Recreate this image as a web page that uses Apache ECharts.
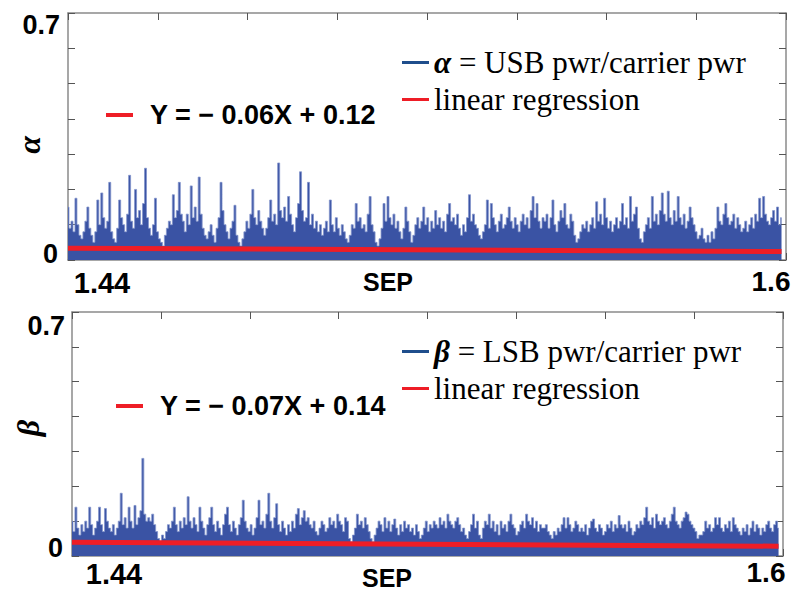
<!DOCTYPE html>
<html><head><meta charset="utf-8">
<script src="https://cdn.jsdelivr.net/npm/echarts@6/dist/echarts.min.js"></script>
<style>html,body{margin:0;padding:0;background:#fff}#c{width:794px;height:593px}</style>
</head><body><div id="c"></div>
<script>
// ---- data ----
const xRange = [1.44, 1.6];          // SEP axis range
const xTickStep = 0.02;
const yRange = [0, 0.7];
const yTickStep = 0.1;
const xLabels = ['1.44', '1.6'];
const yLabels = ['0', '0.7'];
const sampleLast = 1.599;            // last sample position (SEP)

const alphaName = 'α = USB pwr/carrier pwr';
const betaName = 'β = LSB pwr/carrier pwr';
const fitName = 'linear regression';

const alphaFit = [-0.06, 0.12];      // slope, intercept
const betaFit = [-0.07, 0.14];

const alphaValues = [
0.15,0.09,0.11,0.08,0.175,0.10,0.07,0.06,0.08,0.11,0.15,0.09,0.07,0.05,0.08,0.17,0.10,0.19,0.12,0.09,
0.11,0.22,0.08,0.06,0.05,0.09,0.17,0.12,0.10,0.08,0.13,0.24,0.11,0.09,0.20,0.12,0.14,0.10,0.16,0.26,
0.12,0.09,0.07,0.10,0.175,0.08,0.06,0.05,0.04,0.07,0.09,0.11,0.10,0.185,0.12,0.14,0.22,0.13,0.11,0.08,
0.13,0.10,0.21,0.12,0.15,0.11,0.235,0.13,0.09,0.07,0.06,0.08,0.10,0.07,0.05,0.09,0.12,0.22,0.14,0.10,
0.08,0.06,0.09,0.11,0.155,0.07,0.05,0.04,0.06,0.08,0.11,0.09,0.13,0.20,0.12,0.10,0.14,0.11,0.09,0.07,
0.09,0.12,0.17,0.11,0.13,0.10,0.275,0.14,0.12,0.15,0.11,0.18,0.13,0.10,0.08,0.12,0.16,0.25,0.14,0.11,
0.12,0.22,0.10,0.13,0.09,0.11,0.08,0.10,0.07,0.09,0.11,0.08,0.17,0.10,0.08,0.12,0.09,0.07,0.10,0.08,
0.06,0.05,0.07,0.10,0.09,0.16,0.11,0.12,0.09,0.10,0.08,0.13,0.18,0.10,0.08,0.05,0.04,0.06,0.09,0.16,
0.11,0.18,0.12,0.10,0.13,0.09,0.11,0.08,0.06,0.09,0.15,0.11,0.08,0.05,0.07,0.10,0.12,0.09,0.11,0.15,
0.10,0.12,0.08,0.11,0.09,0.14,0.10,0.12,0.09,0.11,0.08,0.13,0.16,0.11,0.12,0.10,0.13,0.09,0.07,0.10,
0.08,0.12,0.185,0.11,0.13,0.10,0.09,0.07,0.06,0.08,0.10,0.17,0.09,0.16,0.12,0.10,0.08,0.11,0.13,0.09,
0.10,0.12,0.15,0.11,0.09,0.12,0.10,0.08,0.11,0.13,0.10,0.12,0.09,0.14,0.18,0.12,0.16,0.11,0.09,0.12,
0.11,0.13,0.09,0.12,0.17,0.10,0.08,0.11,0.14,0.12,0.16,0.10,0.09,0.13,0.11,0.07,0.05,0.06,0.08,0.10,
0.09,0.11,0.08,0.10,0.12,0.09,0.165,0.11,0.13,0.10,0.175,0.12,0.09,0.11,0.08,0.10,0.12,0.09,0.11,0.16,
0.10,0.12,0.09,0.18,0.11,0.13,0.15,0.09,0.06,0.05,0.08,0.10,0.12,0.09,0.18,0.11,0.13,0.10,0.14,0.19,
0.13,0.11,0.195,0.12,0.10,0.14,0.11,0.18,0.12,0.10,0.13,0.09,0.11,0.15,0.12,0.10,0.08,0.06,0.07,0.09,
0.06,0.05,0.07,0.05,0.08,0.06,0.09,0.15,0.11,0.10,0.13,0.16,0.12,0.10,0.11,0.13,0.09,0.12,0.10,0.08,
0.09,0.11,0.08,0.10,0.12,0.09,0.13,0.11,0.175,0.12,0.18,0.13,0.11,0.10,0.12,0.14,0.11,0.15,0.10,0.12
];

const betaValues = [
0.10,0.07,0.14,0.08,0.06,0.09,0.07,0.10,0.08,0.14,0.09,0.06,0.08,0.10,0.14,0.09,0.07,0.136,0.10,0.08,
0.07,0.09,0.06,0.08,0.10,0.18,0.09,0.11,0.08,0.14,0.10,0.08,0.145,0.09,0.11,0.13,0.28,0.12,0.10,0.11,
0.10,0.12,0.09,0.07,0.05,0.04,0.06,0.05,0.07,0.09,0.08,0.10,0.14,0.09,0.07,0.10,0.08,0.11,0.09,0.17,
0.10,0.08,0.11,0.09,0.07,0.14,0.10,0.08,0.06,0.09,0.11,0.14,0.09,0.07,0.10,0.08,0.06,0.09,0.12,0.14,
0.09,0.07,0.10,0.08,0.06,0.09,0.11,0.16,0.10,0.08,0.07,0.09,0.06,0.08,0.11,0.16,0.09,0.10,0.08,0.12,
0.18,0.10,0.08,0.11,0.15,0.09,0.07,0.10,0.08,0.06,0.09,0.07,0.10,0.08,0.12,0.136,0.09,0.11,0.13,0.10,
0.11,0.09,0.08,0.10,0.07,0.06,0.08,0.10,0.09,0.07,0.08,0.11,0.09,0.10,0.08,0.12,0.10,0.09,0.07,0.11,
0.10,0.05,0.04,0.06,0.08,0.12,0.09,0.10,0.08,0.11,0.09,0.07,0.05,0.04,0.06,0.08,0.10,0.09,0.07,0.11,
0.08,0.10,0.07,0.09,0.106,0.08,0.06,0.09,0.07,0.10,0.08,0.09,0.07,0.08,0.06,0.09,0.07,0.05,0.06,0.08,
0.10,0.07,0.09,0.08,0.10,0.09,0.08,0.11,0.09,0.10,0.08,0.12,0.10,0.09,0.08,0.10,0.11,0.09,0.07,0.08,
0.06,0.05,0.07,0.09,0.12,0.08,0.10,0.06,0.05,0.08,0.10,0.09,0.12,0.08,0.10,0.07,0.09,0.06,0.10,0.08,
0.09,0.07,0.10,0.12,0.09,0.08,0.06,0.07,0.09,0.10,0.08,0.12,0.10,0.09,0.11,0.08,0.10,0.07,0.09,0.08,
0.08,0.09,0.07,0.06,0.05,0.07,0.06,0.08,0.07,0.09,0.11,0.08,0.11,0.09,0.07,0.08,0.10,0.09,0.07,0.08,
0.07,0.09,0.06,0.08,0.10,0.106,0.08,0.07,0.09,0.08,0.06,0.07,0.09,0.08,0.10,0.07,0.09,0.08,0.116,0.09,
0.08,0.09,0.07,0.10,0.08,0.06,0.07,0.09,0.08,0.10,0.09,0.11,0.14,0.10,0.09,0.11,0.08,0.12,0.10,0.09,
0.10,0.11,0.09,0.08,0.10,0.12,0.14,0.10,0.09,0.08,0.10,0.11,0.126,0.12,0.10,0.09,0.08,0.07,0.05,0.06,
0.06,0.07,0.10,0.08,0.09,0.07,0.08,0.11,0.09,0.11,0.08,0.07,0.09,0.08,0.10,0.07,0.11,0.09,0.08,0.07,
0.06,0.08,0.07,0.09,0.06,0.08,0.10,0.07,0.09,0.08,0.06,0.08,0.07,0.09,0.10,0.08,0.07,0.09,0.10,0.08
];

// ---- build ----
function samples(vals) {
  const n = vals.length;
  return vals.map((v, i) => [xRange[0] + (sampleLast - xRange[0]) * i / (n - 1), v]);
}
function fitLine(f) {
  return [xRange[0], sampleLast].map(x => [x, f[0] * x + f[1]]);
}

const DATA_BLUE = '#3a53a4';
const LEGEND_BLUE = '#1f4e8c';
const RED = '#ee1d26';
const FRAME = '#8a8a8a';
const SANS = 'Liberation Sans';
const SERIF = 'Liberation Serif';

const grids = [
  { left: 68, top: 13, right: 8, height: 247 },
  { left: 72, top: 312, right: 11, height: 244 }
];

function xAx(gi, pos) {
  return {
    type: 'value', gridIndex: gi, position: pos, min: xRange[0], max: xRange[1], interval: xTickStep,
    axisLine: { show: true, onZero: false, lineStyle: { color: FRAME, width: 1.5 } },
    axisTick: { show: true, inside: true, length: 7, lineStyle: { color: '#555', width: 1 } },
    axisLabel: { show: false }, splitLine: { show: false }
  };
}
function yAx(gi, pos) {
  return {
    type: 'value', gridIndex: gi, position: pos, min: yRange[0], max: yRange[1], interval: yTickStep,
    axisLine: { show: true, onZero: false, lineStyle: { color: FRAME, width: 1.5 } },
    axisTick: { show: true, inside: true, length: 7, lineStyle: { color: '#555', width: 1 } },
    axisLabel: { show: false }, splitLine: { show: false }
  };
}

function dataSeries(name, vals, gi) {
  return {
    name: name, type: 'line', step: 'middle', xAxisIndex: gi * 2, yAxisIndex: gi * 2,
    data: samples(vals), symbol: 'none', showSymbol: false, sampling: null,
    lineStyle: { color: '#8394cb', width: 0.8 },
    itemStyle: { color: LEGEND_BLUE },
    areaStyle: { color: DATA_BLUE, opacity: 1 },
    z: 2, silent: true
  };
}
function fitSeries(f, gi) {
  return {
    name: fitName, type: 'line', xAxisIndex: gi * 2, yAxisIndex: gi * 2,
    data: fitLine(f), symbol: 'none', showSymbol: false,
    lineStyle: { color: RED, width: 5 }, itemStyle: { color: RED },
    z: 3, silent: true
  };
}

function legendCfg(top, firstName, glyph) {
  return {
    orient: 'vertical', left: 397, top: top, icon: 'rect', itemWidth: 27, itemHeight: 3, itemGap: 6,
    selectedMode: false,
    data: [{ name: firstName, itemStyle: { color: LEGEND_BLUE } }, { name: fitName, itemStyle: { color: RED } }],
    formatter: function (n) { return n === firstName ? '{g|' + glyph + '}' + n.slice(1) : n; },
    textStyle: {
      fontFamily: SERIF, fontSize: 31, lineHeight: 31, color: '#000',
      rich: { g: { fontFamily: SERIF, fontSize: 31, fontStyle: 'italic', fontWeight: 'bold', color: '#000' } }
    }
  };
}

function txt(x, y, s, size, family, align, rot, italic) {
  return {
    type: 'text', x: x, y: y, rotation: rot || 0, silent: true,
    style: {
      text: s, fontSize: size, fontFamily: family, fontWeight: 'bold', fontStyle: italic ? 'italic' : 'normal',
      fill: '#000', align: align || 'center', verticalAlign: 'middle'
    }
  };
}
function eq(lineX, y, s) {
  return [
    { type: 'line', silent: true, shape: { x1: lineX, y1: y, x2: lineX + 27, y2: y }, style: { stroke: RED, lineWidth: 4 } },
    txt(lineX + 44, y, s, 27, SANS, 'left')
  ];
}

const graphics = [
  txt(60, 25, yLabels[1], 27, SANS, 'right'),
  txt(58, 254, yLabels[0], 27, SANS, 'right'),
  txt(65, 326, yLabels[1], 27, SANS, 'right'),
  txt(63, 548, yLabels[0], 27, SANS, 'right'),
  txt(102, 283, xLabels[0], 29, SANS, 'center'),
  txt(771, 281, xLabels[1], 28, SANS, 'center'),
  txt(114, 574, xLabels[0], 29, SANS, 'center'),
  txt(766, 572, xLabels[1], 28, SANS, 'center'),
  txt(388, 282, 'SEP', 25, SANS, 'center'),
  txt(387, 578, 'SEP', 25, SANS, 'center'),
  txt(29, 145, 'α', 32, SERIF, 'center', Math.PI / 2, true),
  txt(28, 428, 'β', 32, SERIF, 'center', Math.PI / 2, true)
].concat(eq(106, 115, 'Y = − 0.06X + 0.12'), eq(116, 406, 'Y = − 0.07X + 0.14'));

const chart = echarts.init(document.getElementById('c'), null, { renderer: 'svg' });
chart.setOption({
  animation: false,
  backgroundColor: '#fff',
  grid: grids,
  xAxis: [xAx(0, 'bottom'), xAx(0, 'top'), xAx(1, 'bottom'), xAx(1, 'top')],
  yAxis: [yAx(0, 'left'), yAx(0, 'right'), yAx(1, 'left'), yAx(1, 'right')],
  legend: [legendCfg(42, alphaName, 'α'), legendCfg(331, betaName, 'β')],
  series: [
    dataSeries(alphaName, alphaValues, 0), fitSeries(alphaFit, 0),
    dataSeries(betaName, betaValues, 1), fitSeries(betaFit, 1)
  ],
  graphic: graphics
});
</script></body></html>
